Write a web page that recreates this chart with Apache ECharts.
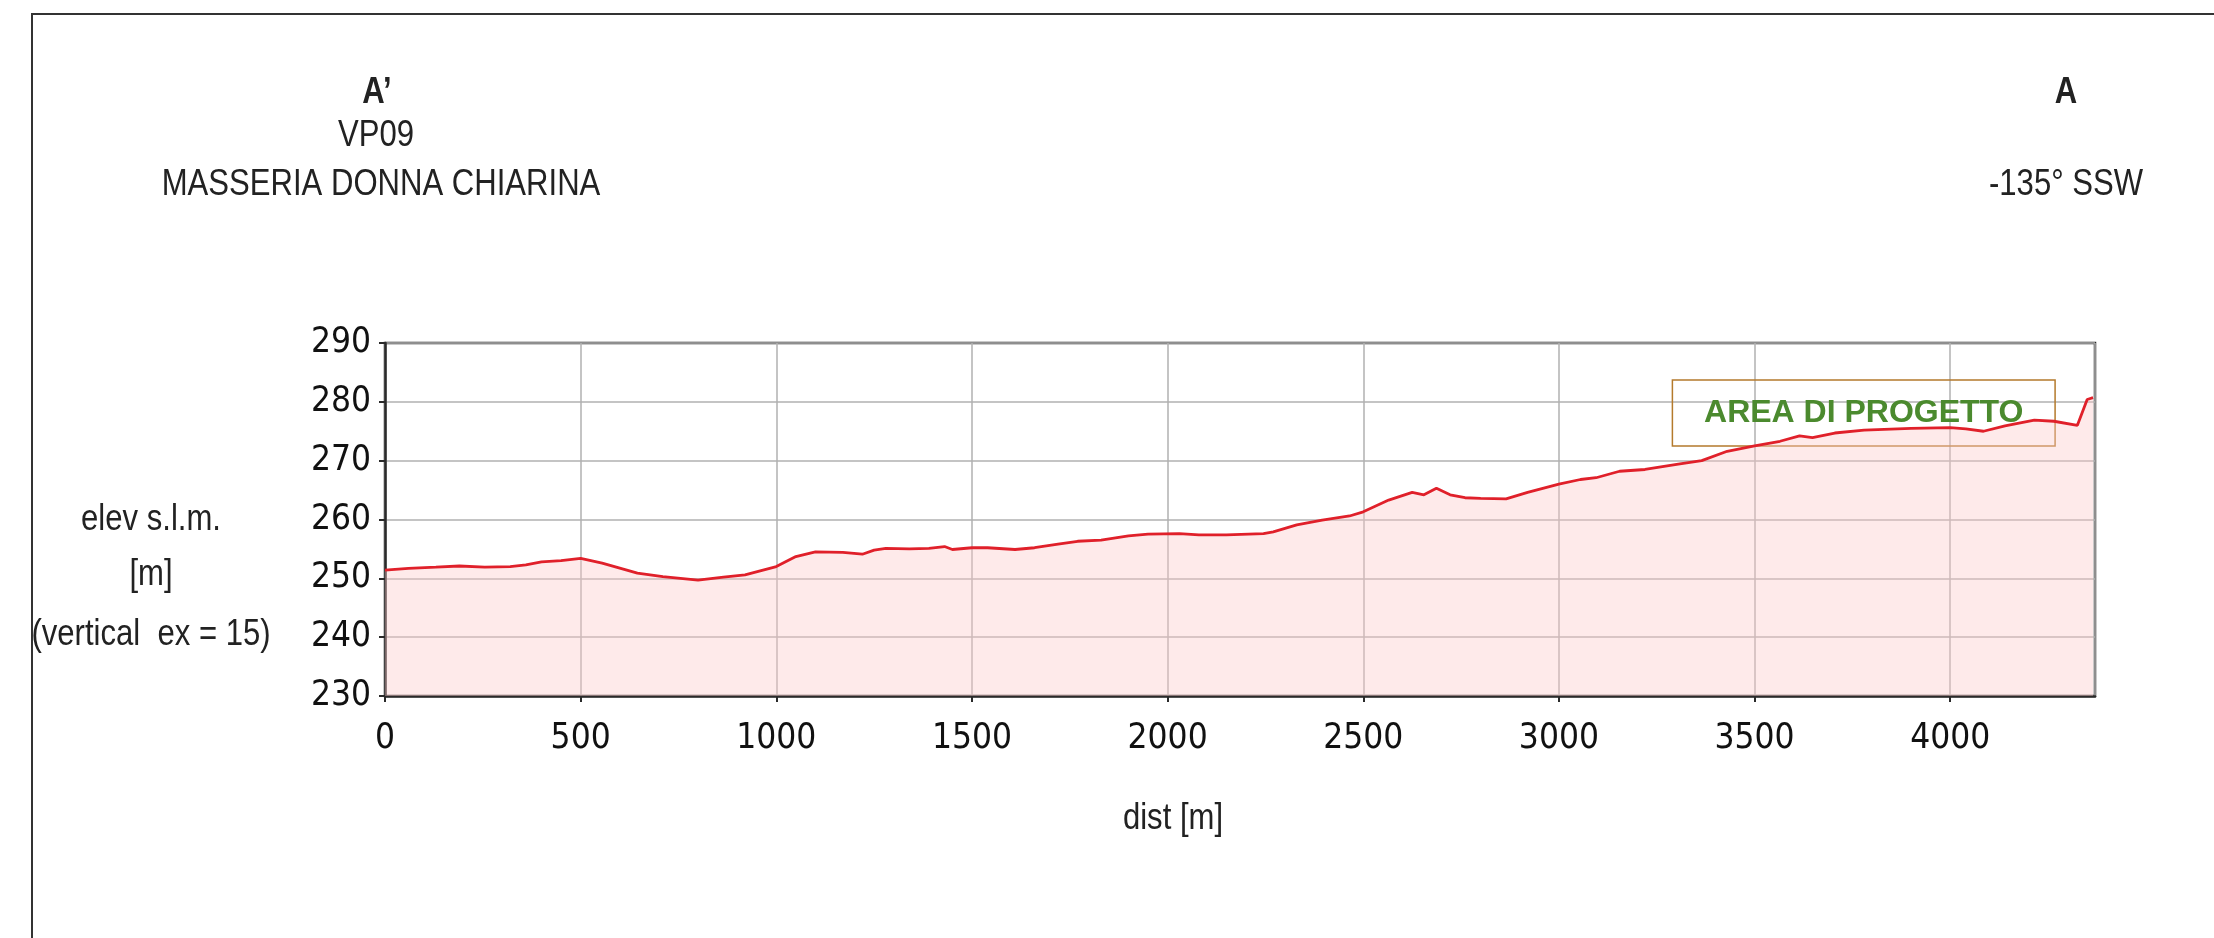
<!DOCTYPE html>
<html><head><meta charset="utf-8">
<script src="https://cdn.jsdelivr.net/npm/echarts@6/dist/echarts.min.js"></script>
<style>html,body{margin:0;padding:0;background:#fff}#c{width:2214px;height:938px}</style>
</head><body><div id="c"></div>
<script>
const dist = [0,60,130,190,255,320,360,400,450,500,555,645,710,800,865,920,1000,1050,1100,1170,1220,1250,1280,1340,1390,1430,1450,1500,1540,1610,1660,1720,1770,1830,1900,1950,2030,2080,2150,2245,2270,2330,2395,2465,2500,2565,2625,2655,2687,2722,2760,2800,2865,2920,3000,3055,3095,3155,3220,3305,3365,3430,3500,3565,3615,3648,3705,3780,3900,4000,4040,4085,4140,4215,4265,4325,4350,4365];
const elev = [251.4,251.7,251.9,252.1,251.9,252.0,252.3,252.8,253.0,253.4,252.6,250.9,250.3,249.7,250.2,250.6,252.0,253.7,254.5,254.4,254.1,254.8,255.1,255.0,255.1,255.4,254.9,255.2,255.2,254.9,255.2,255.8,256.3,256.5,257.2,257.5,257.6,257.4,257.4,257.6,257.9,259.1,259.9,260.6,261.3,263.3,264.6,264.2,265.3,264.2,263.7,263.6,263.5,264.6,266.0,266.8,267.1,268.2,268.5,269.4,270.0,271.6,272.5,273.3,274.2,273.9,274.7,275.2,275.5,275.6,275.4,275.0,275.9,276.9,276.7,276.0,280.4,280.7];
const xTicks = {min:0, max:4370, interval:500};
const yTicks = {min:230, max:290, interval:10};
const areaBox = {x0:3290, x1:4268, y0:272.5, y1:283.7, label:'AREA DI PROGETTO'};
const titleLeft = ['A’','VP09','MASSERIA DONNA CHIARINA'];
const titleRight = ['A','-135° SSW'];
const yName = ['elev s.l.m.','[m]','(vertical  ex = 15)'];
const xName = 'dist [m]';

const chart = echarts.init(document.getElementById('c'), null, {renderer:'canvas'});
const txtFont = '"Liberation Sans", Arial, sans-serif';
function t(text, x, y, opts){
  return {type:'text', x:x, y:y, scaleX:0.84, scaleY:1, silent:true,
    style:Object.assign({text:text, fill:'#222', font:'37px '+txtFont, textAlign:'center', textVerticalAlign:'middle'}, opts||{})};
}
const graphics = [
  {type:'rect', shape:{x:32,y:14,width:2400,height:1200}, style:{fill:null, stroke:'#333', lineWidth:2}, silent:true},
  t(titleLeft[0],377,93,{font:'bold 37px '+txtFont}),
  t(titleLeft[1],376,136),
  t(titleLeft[2],381,185),
  t(titleRight[0],2066,93,{font:'bold 37px '+txtFont}),
  t(titleRight[1],2066,185),
  t(yName[0],151,520),
  t(yName[1],151,575),
  t(yName[2],151,635),
  t(xName,1173,819)
];
const tickLabel = {show:true, color:'#111', fontFamily:'"DejaVu Sans Condensed", "DejaVu Sans", sans-serif', fontSize:35, formatter:(v)=>String(v)};
chart.setOption({
  animation:false,
  backgroundColor:'#fff',
  graphic: graphics,
  grid:{left:385, top:343, width:1710, height:353, show:true, borderColor:'#2a2a2a', borderWidth:2.5, backgroundColor:'transparent'},
  xAxis:{type:'value', min:xTicks.min, max:xTicks.max, interval:xTicks.interval,
    axisLine:{show:true, onZero:false, lineStyle:{color:'#2a2a2a', width:2.5}},
    axisTick:{show:true, inside:false, length:6, lineStyle:{color:'#2a2a2a', width:2}},
    axisLabel:Object.assign({margin:25, showMaxLabel:false}, tickLabel),
    splitLine:{show:true, lineStyle:{color:'#b0b0b0', width:1.5}}},
  yAxis:{type:'value', min:yTicks.min, max:yTicks.max, interval:yTicks.interval,
    axisLine:{show:true, onZero:false, lineStyle:{color:'#2a2a2a', width:2.5}},
    axisTick:{show:true, inside:false, length:6, lineStyle:{color:'#2a2a2a', width:2}},
    axisLabel:Object.assign({margin:14}, tickLabel),
    splitLine:{show:true, lineStyle:{color:'#b0b0b0', width:1.5}}},
  series:[{
    type:'line', data: dist.map((d,i)=>[d, elev[i]]), showSymbol:false, symbol:'none',
    lineStyle:{color:'#e0202a', width:2.8},
    areaStyle:{color:'rgba(252,200,200,0.55)', origin:'start'},
    markArea:{silent:true,
      itemStyle:{color:'rgba(0,0,0,0)', borderColor:'#b47a2c', borderWidth:1.5},
      label:{show:true, position:'inside', color:'#4b8a2e', fontFamily:'"Liberation Sans"', fontWeight:'bold', fontSize:32},
      data:[[{xAxis:areaBox.x0, yAxis:areaBox.y1, name:areaBox.label},{xAxis:areaBox.x1, yAxis:areaBox.y0}]]}
  }]
});
</script></body></html>
